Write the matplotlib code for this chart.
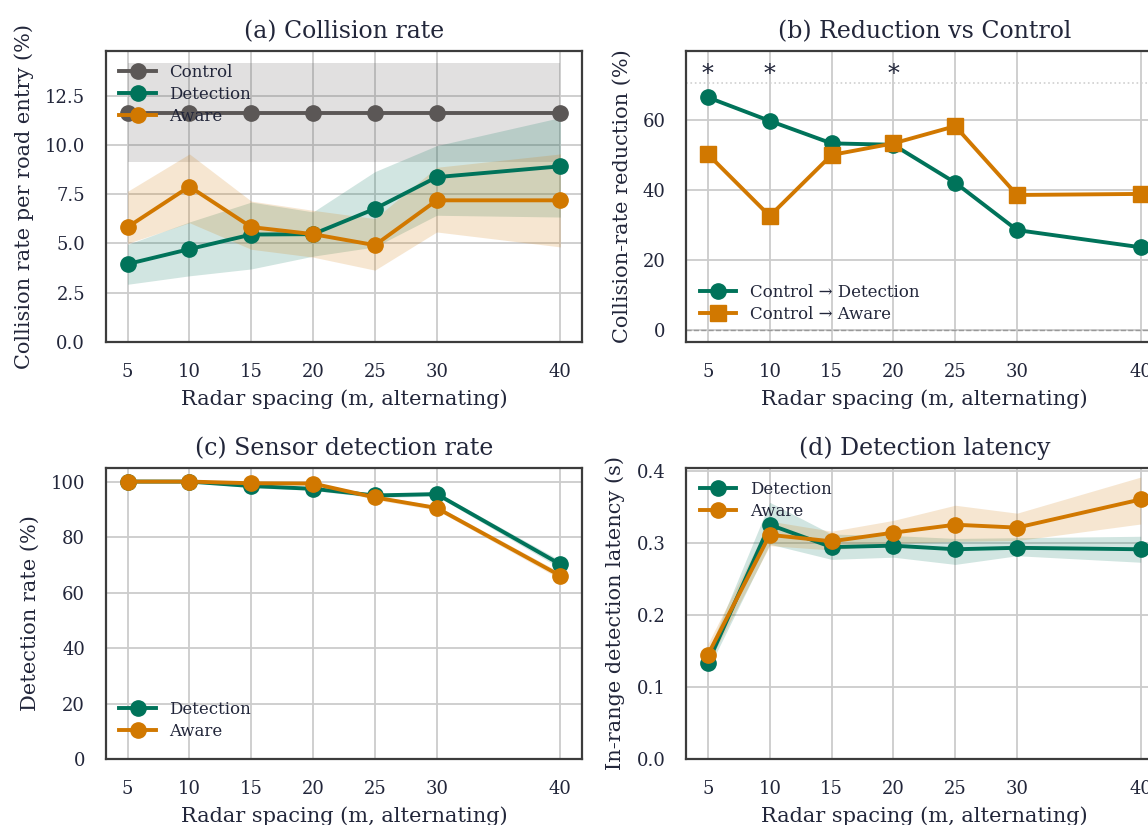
import matplotlib
matplotlib.use('Agg')
import matplotlib.pyplot as plt

# radar spacing in metres
spacing = [5, 10, 15, 20, 25, 30, 40]

# (a) collision rate per road entry, %
control_rate = [11.62, 11.62, 11.62, 11.62, 11.62, 11.62, 11.62]
control_lo = [9.12, 9.12, 9.12, 9.12, 9.12, 9.12, 9.12]
control_hi = [14.15, 14.15, 14.15, 14.15, 14.15, 14.15, 14.15]
detection_rate = [3.95, 4.71, 5.45, 5.47, 6.76, 8.37, 8.92]
detection_rate_lo = [2.92, 3.35, 3.7, 4.35, 4.82, 6.43, 6.34]
detection_rate_hi = [4.95, 6.09, 7.1, 6.6, 8.65, 9.97, 11.4]
aware_rate = [5.83, 7.89, 5.83, 5.47, 4.91, 7.19, 7.19]
aware_rate_lo = [5.0, 6.05, 4.7, 4.3, 3.64, 5.58, 4.82]
aware_rate_hi = [7.65, 9.55, 7.15, 6.68, 6.26, 8.87, 9.55]

# (b) reduction vs control, %
detection_reduction = [66.3, 59.6, 53.2, 52.8, 42.0, 28.5, 23.6]
aware_reduction = [50.1, 32.5, 49.9, 53.2, 58.1, 38.5, 38.8]
significant = [5, 10, 20]

# (c) sensor detection rate, %
detection_det = [100.0, 100.0, 98.4, 97.4, 95.0, 95.5, 70.2]
detection_det_lo = [99.8, 99.8, 97.8, 96.8, 94.2, 94.8, 68.8]
detection_det_hi = [100.0, 100.0, 99.0, 98.0, 95.8, 96.2, 71.6]
aware_det = [100.0, 100.0, 99.4, 99.3, 94.3, 90.5, 66.1]
aware_det_lo = [99.8, 99.8, 98.9, 98.7, 93.5, 89.7, 64.9]
aware_det_hi = [100.0, 100.0, 99.8, 99.8, 95.1, 91.3, 67.3]

# (d) in-range detection latency, s
detection_lat = [0.134, 0.325, 0.294, 0.296, 0.291, 0.293, 0.291]
detection_lat_lo = [0.124, 0.298, 0.277, 0.280, 0.270, 0.282, 0.273]
detection_lat_hi = [0.148, 0.356, 0.312, 0.310, 0.306, 0.307, 0.309]
aware_lat = [0.145, 0.311, 0.302, 0.314, 0.325, 0.321, 0.360]
aware_lat_lo = [0.132, 0.296, 0.290, 0.299, 0.302, 0.303, 0.326]
aware_lat_hi = [0.160, 0.330, 0.316, 0.331, 0.352, 0.341, 0.391]

GREEN = '#00735a'
ORANGE = '#d17800'
GRAY = '#5b5756'
TEXT = '#22263a'

plt.rcParams['font.family'] = ['DejaVu Serif']
plt.rcParams['text.color'] = TEXT
plt.rcParams['axes.labelcolor'] = TEXT
plt.rcParams['xtick.color'] = TEXT
plt.rcParams['ytick.color'] = TEXT


def style_axes(ax, title, ylabel):
    ax.set_title(title, fontsize=17, pad=9)
    ax.set_xlabel('Radar spacing (m, alternating)', fontsize=15, labelpad=6)
    ax.set_ylabel(ylabel, fontsize=15, labelpad=8)
    ax.set_xticks(spacing)
    ax.tick_params(labelsize=13, length=0)
    ax.tick_params(axis='x', pad=15)
    ax.tick_params(axis='y', pad=15)
    ax.grid(True, color='#cccccc', linewidth=1.3)
    ax.set_axisbelow(True)
    for s in ax.spines.values():
        s.set_color('#3c3c3c')
        s.set_linewidth(1.6)
    ax.set_xlim(3.25, 41.75)


def series(ax, y, lo, hi, color, label, marker='o'):
    ax.fill_between(spacing, lo, hi, color=color, alpha=0.18, linewidth=0)
    ax.plot(spacing, y, color=color, label=label, marker=marker,
            markersize=11, linewidth=2.8)


fig = plt.figure(figsize=(11.48, 8.25), dpi=100)
W, H = 1148.0, 825.0
ax_a = fig.add_axes([106 / W, (H - 341.7) / H, 476 / W, 291 / H])
ax_b = fig.add_axes([686.3 / W, (H - 341.7) / H, 476 / W, 291 / H])
ax_c = fig.add_axes([106 / W, (H - 759.3) / H, 476 / W, 291.6 / H])
ax_d = fig.add_axes([686.3 / W, (H - 759.3) / H, 476 / W, 291.6 / H])

# (a)
style_axes(ax_a, '(a) Collision rate', 'Collision rate per road entry (%)')
series(ax_a, control_rate, control_lo, control_hi, GRAY, 'Control')
series(ax_a, detection_rate, detection_rate_lo, detection_rate_hi, GREEN, 'Detection')
series(ax_a, aware_rate, aware_rate_lo, aware_rate_hi, ORANGE, 'Aware')
ax_a.set_ylim(0, 14.8)
ax_a.set_yticks([0, 2.5, 5, 7.5, 10, 12.5])
ax_a.set_yticklabels(['0.0', '2.5', '5.0', '7.5', '10.0', '12.5'])
ax_a.legend(loc='upper left', frameon=False, fontsize=12, handlelength=2.2,
            borderaxespad=0.4, labelspacing=0.3)

# (b)
style_axes(ax_b, '(b) Reduction vs Control', 'Collision-rate reduction (%)')
ax_b.axhline(0, color='#999999', linestyle='--', linewidth=1.0)
ax_b.axhline(70.5, color='#d0d0d0', linestyle=':', linewidth=1.2)
ax_b.plot(spacing, detection_reduction, color=GREEN, marker='o', markersize=11,
          linewidth=2.8, label='Control \u2192 Detection')
ax_b.plot(spacing, aware_reduction, color=ORANGE, marker='s', markersize=11,
          linewidth=2.8, label='Control \u2192 Aware')
for x in significant:
    ax_b.text(x, 73.5, '*', ha='center', va='center_baseline', fontsize=17,
              color=TEXT)
ax_b.set_ylim(-3.3, 79.6)
ax_b.set_yticks([0, 20, 40, 60])
ax_b.legend(loc='lower left', frameon=False, fontsize=12, handlelength=2.2,
            borderaxespad=0.4, labelspacing=0.3, bbox_to_anchor=(0, 0.02))

# (c)
style_axes(ax_c, '(c) Sensor detection rate', 'Detection rate (%)')
series(ax_c, detection_det, detection_det_lo, detection_det_hi, GREEN, 'Detection')
series(ax_c, aware_det, aware_det_lo, aware_det_hi, ORANGE, 'Aware')
ax_c.set_ylim(0, 105)
ax_c.set_yticks([0, 20, 40, 60, 80, 100])
ax_c.legend(loc='lower left', frameon=False, fontsize=12, handlelength=2.2,
            borderaxespad=0.4, labelspacing=0.3, bbox_to_anchor=(0, 0.02))

# (d)
style_axes(ax_d, '(d) Detection latency', 'In-range detection latency (s)')
series(ax_d, detection_lat, detection_lat_lo, detection_lat_hi, GREEN, 'Detection')
series(ax_d, aware_lat, aware_lat_lo, aware_lat_hi, ORANGE, 'Aware')
ax_d.set_ylim(0, 0.404)
ax_d.set_yticks([0, 0.1, 0.2, 0.3, 0.4])
ax_d.legend(loc='upper left', frameon=False, fontsize=12, handlelength=2.2,
            borderaxespad=0.4, labelspacing=0.3)

fig.savefig('out.png', dpi=100)
